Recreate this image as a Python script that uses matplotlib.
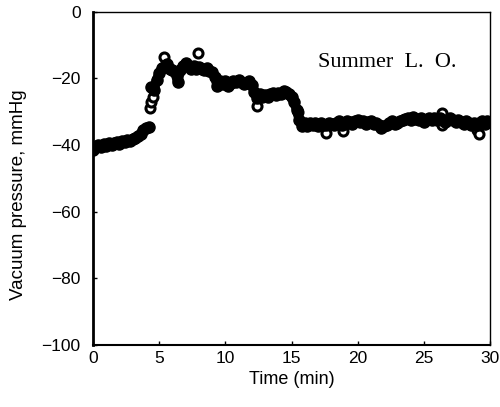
import numpy as np
import matplotlib
matplotlib.use("Agg")
import matplotlib.pyplot as plt

# sampling times (min), one reading every 0.2 min
time_min = np.round(np.arange(0, 30.01, 0.2), 1)

# vacuum pressure (mmHg)
pressure = [
    -41.5, -40.5, -40.0, -40.6, -39.8, -40.2, -39.4, -40.0, -39.3, -39.0,
    -39.6, -38.8, -39.2, -38.5, -38.9, -38.2, -37.9, -37.4, -36.6, -35.6,
    -35.0, -34.6, -22.5, -23.5, -20.5, -18.5, -17.0, -16.5, -15.8, -17.2,
    -17.6, -18.0, -21.0, -17.5, -16.3, -15.5, -16.2, -17.2, -16.4, -17.1,
    -16.5, -17.2, -17.6, -16.9, -17.7, -18.2, -19.5, -22.2, -20.8, -21.8,
    -20.9, -22.2, -21.4, -20.8, -21.2, -20.4, -21.1, -21.7, -21.3, -20.9,
    -22.1, -24.0, -26.0, -24.8, -25.6, -24.9, -25.7, -24.8, -24.4, -25.1,
    -24.5, -24.7, -23.9, -24.1, -24.6, -25.5, -27.0, -29.5, -32.5, -34.2,
    -33.4, -34.2, -33.4, -34.1, -33.5, -34.2, -33.4, -34.1, -34.0, -33.5,
    -33.6, -34.1, -33.4, -32.9, -34.1, -33.4, -32.9, -33.2, -33.6, -32.9,
    -32.5, -33.1, -32.9, -33.6, -33.0, -32.9, -33.6, -33.4, -34.1, -35.0,
    -34.4, -34.0, -33.5, -32.9, -33.6, -33.4, -32.9, -32.4, -32.1, -31.9,
    -32.6, -31.5, -32.1, -32.6, -31.9, -33.0, -32.4, -31.9, -32.6, -31.9,
    -32.5, -31.8, -32.6, -33.1, -32.4, -31.9, -32.6, -33.1, -32.4, -33.0,
    -33.6, -32.9, -33.5, -34.1, -33.4, -34.0, -33.5, -32.9, -33.6, -32.9,
    -33.0,
]

# isolated readings that show up as separate open circles
out_time = [4.3, 4.4, 4.5, 5.4, 7.9, 12.4, 15.5, 17.6, 18.9, 26.4, 26.4, 29.0, 29.2]
out_pres = [-29.0, -27.0, -25.5, -13.6, -12.3, -28.4, -30.0, -36.5, -35.9,
            -30.3, -34.1, -35.5, -36.8]

# the record jumps between these two readings, no trace drawn across it
split = 22

fig = plt.figure(figsize=(5.0, 4.07), dpi=100)
ax = fig.add_axes([0.186, 0.152, 0.794, 0.819])

# overlapping readings merge into a solid black band
ax.plot(out_time, out_pres, 'o', ms=6.5, mfc='white', mec='black', mew=2.2, zorder=2)
for seg in (slice(0, split), slice(split, None)):
    ax.plot(time_min[seg], pressure[seg], '-', color='black', lw=7,
            solid_capstyle='round', solid_joinstyle='round', zorder=3)
ax.plot(time_min, pressure, 'o', ms=8, mfc='black', mec='black', mew=1.0, zorder=3)

ax.set_xlim(0, 30)
ax.set_ylim(-100, 0)
ax.set_xticks([0, 5, 10, 15, 20, 25, 30])
ax.set_yticks([0, -20, -40, -60, -80, -100])
ax.set_yticklabels(['0', '\u221220', '\u221240', '\u221260', '\u221280', '\u2212100'])
ax.tick_params(direction='in', length=3, width=1, labelsize=12.5)
ax.tick_params(axis='x', pad=4)
ax.tick_params(axis='y', pad=9)
for lab in ax.get_xticklabels() + ax.get_yticklabels():
    lab.set_family('Liberation Sans')

ax.spines['left'].set_linewidth(2.0)
ax.spines['bottom'].set_linewidth(1.5)
ax.spines['top'].set_linewidth(1.0)
ax.spines['right'].set_linewidth(1.0)

ax.set_xlabel('Time (min)', family='Liberation Sans', fontsize=13, labelpad=4)
ax.set_ylabel('Vacuum pressure, mmHg', family='Liberation Sans', fontsize=13.5)
ax.yaxis.set_label_coords(-0.166, 0.45)
ax.text(17.0, -15.2, 'Summer  L.  O.', family='Liberation Serif', fontsize=16,
        va='center', ha='left')

fig.savefig('out.png', dpi=100)
